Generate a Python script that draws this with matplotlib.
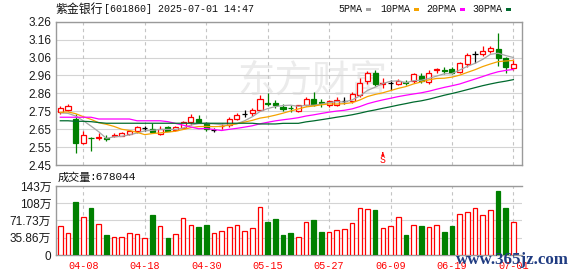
import matplotlib
matplotlib.use("Agg")
import matplotlib.pyplot as plt
from matplotlib.patches import Rectangle
import numpy as np
import pandas as pd

# ---------------- data ----------------
dates = ["04-02", "04-03", "04-07", "04-08", "04-09", "04-10", "04-11", "04-14", "04-15", "04-16",
         "04-17", "04-18", "04-21", "04-22", "04-23", "04-24", "04-25", "04-28", "04-29", "04-30",
         "05-06", "05-07", "05-08", "05-09", "05-12", "05-13", "05-14", "05-15", "05-16", "05-19",
         "05-20", "05-21", "05-22", "05-23", "05-26", "05-27", "05-28", "05-29", "05-30", "06-03",
         "06-04", "06-05", "06-06", "06-09", "06-10", "06-11", "06-12", "06-13", "06-16", "06-17",
         "06-18", "06-19", "06-20", "06-23", "06-24", "06-25", "06-26", "06-27", "06-30", "07-01"]

opens = [2.75, 2.76, 2.71, 2.575, 2.605, 2.605, 2.604, 2.615, 2.615, 2.625,
         2.645, 2.657, 2.652, 2.625, 2.663, 2.648, 2.661, 2.695, 2.71, 2.69,
         2.648, 2.668, 2.676, 2.712, 2.736, 2.746, 2.761, 2.802, 2.802, 2.78,
         2.774, 2.757, 2.787, 2.823, 2.805, 2.787, 2.79, 2.812, 2.812, 2.846,
         2.925, 2.968, 2.91, 2.915, 2.906, 2.921, 2.925, 2.953, 2.917, 2.985,
         2.988, 2.992, 2.974, 3.019, 3.076, 3.076, 3.096, 3.104, 3.053, 2.997]
highs = [2.785, 2.793, 2.74, 2.645, 2.61, 2.633, 2.62, 2.633, 2.635, 2.648,
         2.67, 2.672, 2.69, 2.67, 2.668, 2.67, 2.70, 2.736, 2.733, 2.695,
         2.661, 2.685, 2.72, 2.746, 2.761, 2.771, 2.846, 2.855, 2.818, 2.795,
         2.787, 2.79, 2.836, 2.864, 2.823, 2.818, 2.836, 2.833, 2.864, 2.94,
         2.983, 2.987, 2.94, 2.93, 2.935, 2.93, 2.972, 2.972, 2.987, 3.0,
         3.002, 3.002, 3.03, 3.085, 3.096, 3.12, 3.123, 3.198, 3.059, 3.047]
lows = [2.74, 2.755, 2.52, 2.57, 2.53, 2.59, 2.585, 2.61, 2.612, 2.62,
        2.63, 2.642, 2.63, 2.62, 2.64, 2.64, 2.655, 2.676, 2.686, 2.645,
        2.635, 2.655, 2.663, 2.704, 2.723, 2.727, 2.755, 2.783, 2.77, 2.755,
        2.75, 2.75, 2.783, 2.785, 2.776, 2.78, 2.783, 2.795, 2.80, 2.836,
        2.906, 2.897, 2.884, 2.874, 2.90, 2.905, 2.915, 2.915, 2.908, 2.972,
        2.963, 2.963, 2.968, 3.006, 3.025, 3.066, 3.082, 3.011, 2.972, 2.987]
closes = [2.77, 2.785, 2.575, 2.62, 2.60, 2.61, 2.597, 2.62, 2.632, 2.643,
          2.663, 2.657, 2.636, 2.655, 2.645, 2.662, 2.695, 2.723, 2.693, 2.652,
          2.648, 2.673, 2.71, 2.733, 2.736, 2.761, 2.821, 2.793, 2.79, 2.765,
          2.772, 2.787, 2.823, 2.79, 2.80, 2.812, 2.815, 2.812, 2.851, 2.912,
          2.968, 2.906, 2.915, 2.915, 2.925, 2.915, 2.964, 2.925, 2.968, 2.99,
          2.982, 2.968, 3.025, 3.072, 3.076, 3.094, 3.11, 3.057, 3.006, 3.021]

# volume in 万
volumes = [60.3, 45.7, 110, 79, 97.7, 64.4, 41.6, 37.4, 37.4, 45.7,
           43.7, 35.3, 83.2, 60.3, 35.3, 43.7, 76.9, 62.4, 58.2, 62.4,
           45.7, 49.9, 58.2, 62.4, 49.9, 56.1, 99.8, 68.6, 74.8, 41.6,
           45.7, 37.4, 68.6, 72.8, 47.8, 47.8, 52, 54, 66.5, 97.7,
           95.6, 93.5, 56.1, 60.3, 79, 41.6, 62.4, 60.3, 58.2, 62.4,
           47.8, 60.3, 85.2, 89.4, 97.7, 83.2, 93.5, 133, 97.7, 67.8044]

# moving-average values before enough history is inside the window
ma5_head = [2.745, 2.742, 2.727, 2.70]
ma10_head = [2.748, 2.75, 2.74, 2.723, 2.708, 2.689, 2.68, 2.668, 2.652]
ma20_head = [2.72, 2.72, 2.72, 2.72, 2.72, 2.71, 2.71, 2.71, 2.71, 2.71,
             2.70, 2.70, 2.70, 2.70, 2.695, 2.685, 2.675, 2.665, 2.655]
ma30_head = [2.70, 2.70, 2.697, 2.697, 2.695, 2.69, 2.686, 2.686, 2.686, 2.686,
             2.686, 2.686, 2.686, 2.686, 2.686, 2.686, 2.686, 2.686, 2.686, 2.686,
             2.686, 2.686, 2.686, 2.686, 2.686, 2.686, 2.682, 2.682, 2.682]

xtick_labels = ["04-08", "04-18", "04-30", "05-15", "05-27", "06-09", "06-19", "07-01"]
price_ticks = [2.45, 2.55125, 2.6525, 2.75375, 2.855, 2.95625, 3.0575, 3.15875, 3.26]
price_tick_labels = ["2.45", "2.55", "2.65", "2.75", "2.86", "2.96", "3.06", "3.16", "3.26"]
vol_ticks = [0, 35.86, 71.73, 107.59, 143.45]
vol_tick_labels = ["0", "35.86万", "71.73万", "108万", "143万"]

title_name = "紫金银行"
title_rest = "[601860] 2025-07-01 14:47"
legend_names = ["5PMA", "10PMA", "20PMA", "30PMA"]
vol_label = "成交量"
vol_value = "678044"
signal_idx = 42
watermark_cn = "东方财富"
watermark_url = "www.365jz.com"

# ---------------- derived ----------------
cl = pd.Series(closes)
def ma(n, head):
    m = cl.rolling(n).mean().to_numpy()
    m[:len(head)] = head
    return m
mas = [ma(5, ma5_head), ma(10, ma10_head), ma(20, ma20_head), ma(30, ma30_head)]
ma_colors = ["#a6a6a6", "#f5a300", "#ff00ff", "#006a2e"]

CJK = ["Noto Sans CJK SC", "DejaVu Sans"]
RED = "#ff0000"
GREEN = "#008000"
GRID = "#d4d4d4"
SPINE = "#9a9a9a"
W, H = 578, 276

fig = plt.figure(figsize=(W / 100, H / 100), dpi=100)
ax = fig.add_axes([56 / W, 1 - 165 / H, 466 / W, 143.3 / H])
axv = fig.add_axes([56 / W, 1 - 255 / H, 466 / W, 69 / H])

n = len(closes)
x = np.arange(n)
tick_idx = [dates.index(d) for d in xtick_labels]

for a in (ax, axv):
    a.set_xlim(-0.56, 60.12)
    a.set_xticks(tick_idx)
    a.tick_params(axis="both", length=0)
    for t in tick_idx:
        a.axvline(t, color="#c4c4c4", lw=0.8, ls=(0, (3, 3)), zorder=0.5)
    for s in a.spines.values():
        s.set_color(SPINE)
        s.set_linewidth(1.0)

# price axis
ax.set_ylim(2.45, 3.26)
ax.set_yticks(price_ticks)
ax.set_yticklabels(price_tick_labels, fontsize=8.5, family="Liberation Sans", color="#1a1a1a")
ax.tick_params(axis="y", pad=3.5)
ax.set_xticklabels([])
for yv in price_ticks:
    ax.axhline(yv, color=GRID, lw=0.8, zorder=0.4)

ax.text(0.39, 0.585, watermark_cn, transform=ax.transAxes, fontsize=27, color="#ebebeb",
        family=CJK, va="center", ha="left", zorder=0.3)

bw = 0.66
for i in range(n):
    o, h, l, c = opens[i], highs[i], lows[i], closes[i]
    if c > o:
        col, face = RED, "white"
    elif c < o:
        col, face = GREEN, GREEN
    else:
        col, face = "black", "black"
    ax.vlines(i, l, h, color=col, lw=0.9, zorder=2)
    if c == o:
        ax.hlines(o, i - bw / 2, i + bw / 2, color=col, lw=0.9, zorder=3)
    else:
        ax.add_patch(Rectangle((i - bw / 2, min(o, c)), bw, abs(c - o), facecolor=face,
                               edgecolor=col, lw=0.9, zorder=3))

for m, col in zip(mas, ma_colors):
    ax.plot(x, m, color=col, lw=0.9, zorder=4)

# signal marker
ax.text(signal_idx, 2.481, "S", color=RED, fontsize=7, ha="center", va="center",
        family="Liberation Mono", zorder=5)
ax.annotate("", xy=(signal_idx, 2.522), xytext=(signal_idx, 2.503),
            arrowprops=dict(arrowstyle="-|>", color=RED, lw=0.7, mutation_scale=4), zorder=5)

# volume axis
axv.set_ylim(0, 143.45)
axv.set_yticks(vol_ticks)
axv.set_yticklabels(vol_tick_labels, fontsize=8.5, color="#1a1a1a")
for lab in axv.get_yticklabels():
    lab.set_family(["Liberation Sans", "Noto Sans CJK SC"])
axv.tick_params(axis="y", pad=3.5)
axv.set_xticklabels(xtick_labels, fontsize=7.3, color=RED, family="Liberation Mono")
axv.tick_params(axis="x", pad=4)
axv.spines["right"].set_visible(False)
for yv in vol_ticks[1:]:
    axv.axhline(yv, color=GRID, lw=0.8, zorder=0.4)
for i in range(n):
    up = closes[i] >= opens[i]
    axv.bar(i, volumes[i], width=0.6, facecolor="white" if up else GREEN,
            edgecolor=RED if up else GREEN, lw=0.9, zorder=3)

# texts
fig.text(56 / W, 1 - 9.5 / H, title_name, fontsize=8.6, family=CJK,
         va="center", ha="left", color="#111111")
fig.text(104 / W, 1 - 9.5 / H, title_rest, fontsize=7.2, family="Liberation Mono",
         va="center", ha="left", color="#111111")

leg_x = [338, 380, 426, 472]
for nm, xx, col in zip(legend_names, leg_x, ma_colors):
    fig.text(xx / W, 1 - 9.5 / H, nm, fontsize=7.2, family="Liberation Mono",
             va="center", ha="left", color="#111111")
    wpx = 6.0 * len(nm)
    fig.patches.append(Rectangle(((xx + wpx + 4) / W, 1 - 11 / H), 4.5 / W, 3.3 / H,
                                 transform=fig.transFigure, facecolor=col, edgecolor="none"))

fig.text(58 / W, 1 - 177.5 / H, vol_label, fontsize=8.0, family=CJK,
         va="center", ha="left", color="#111111")
fig.text(89 / W, 1 - 177.5 / H, ":" + vol_value, fontsize=8.0, family="Liberation Mono",
         va="center", ha="left", color="#111111")

fig.text(456 / W, 1 - 260 / H, watermark_url, fontsize=12.2, family="Liberation Serif",
         fontweight="bold", color="#203c82", va="center", ha="left", zorder=10)

fig.savefig("out.png", dpi=100, facecolor="white")
